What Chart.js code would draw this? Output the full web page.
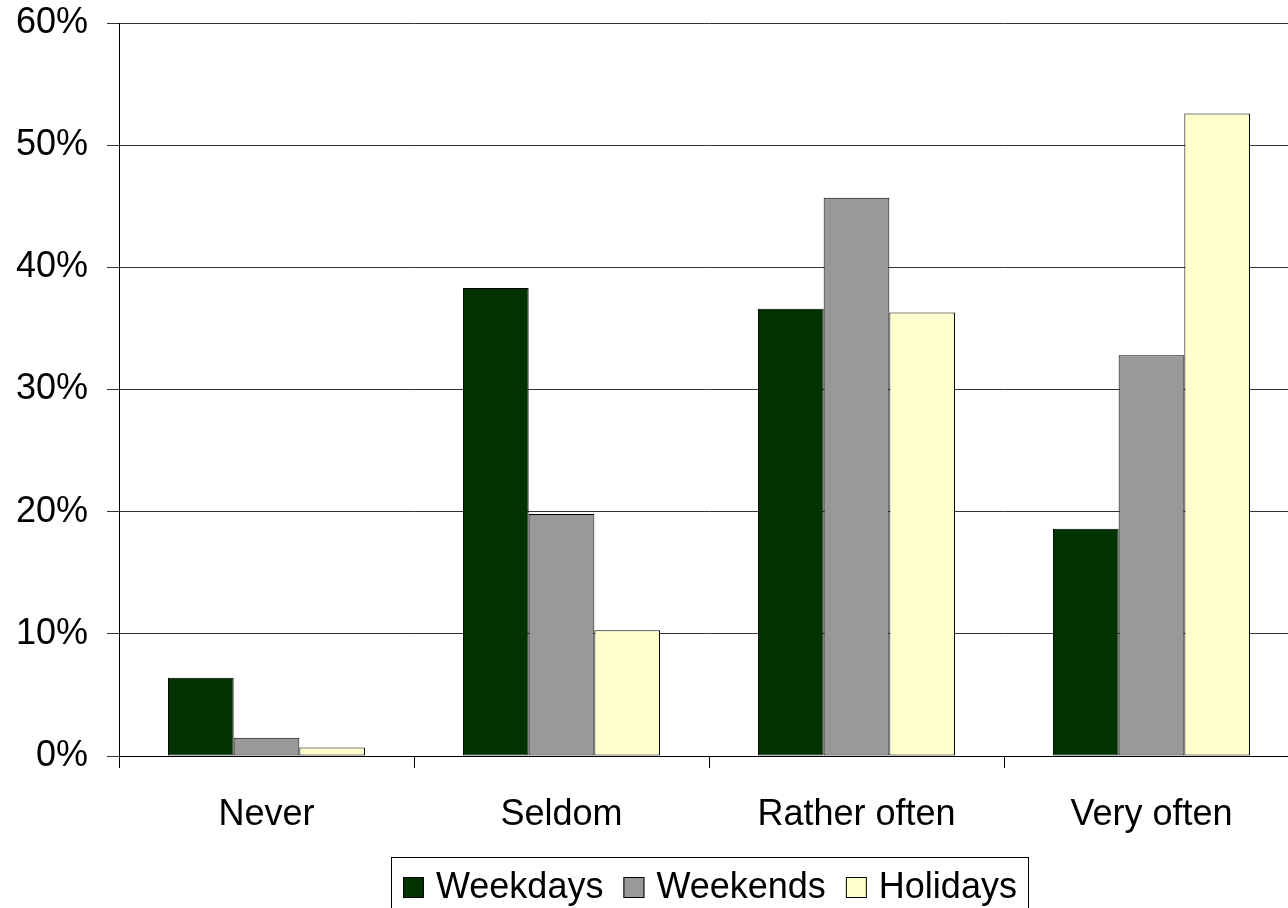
<!DOCTYPE html>
<html>
<head>
<meta charset="utf-8">
<script src="https://cdn.jsdelivr.net/npm/chart.js@4/dist/chart.umd.min.js"></script>
<style>
  html, body { margin: 0; padding: 0; overflow: hidden; background: #ffffff; }
  #wrap { position: absolute; left: 0; top: 0; width: 1302px; height: 908px; }
</style>
</head>
<body>
<div id="wrap"><canvas id="chart" width="1302" height="908"></canvas></div>
<script>
// Share of respondents per frequency, by type of day (%)
const categories = ['Never', 'Seldom', 'Rather often', 'Very often'];
const weekdays = [6.4, 38.3, 36.6, 18.6];
const weekends = [1.5, 19.8, 45.7, 32.8];
const holidays = [0.7, 10.3, 36.3, 52.6];
const seriesNames = ['Weekdays', 'Weekends', 'Holidays'];
const seriesColors = ['#003300', '#999999', '#FFFFCC'];
const yTickValues = [0, 10, 20, 30, 40, 50, 60];

const FONT_FAMILY = '"Liberation Sans", Arial, Helvetica, sans-serif';

// Legend drawn as a framed row of swatches under the x axis
const boxedLegend = {
  id: 'boxedLegend',
  afterDraw(chart) {
    const ctx = chart.ctx;
    const area = chart.chartArea;
    const sets = chart.data.datasets;
    ctx.save();
    ctx.font = '36px ' + FONT_FAMILY;
    const sq = 21, gapText = 12, gapItem = 20, padL = 12, padR = 11;
    const widths = sets.map(d => ctx.measureText(d.label).width);
    let total = padL + padR;
    widths.forEach((w, i) => {
      total += sq + gapText + w + (i < widths.length - 1 ? gapItem : 0);
    });
    const cx = (area.left + area.right) / 2;
    const left = Math.round(cx - total / 2);
    const top = chart.height - 51;

    ctx.strokeStyle = '#000000';
    ctx.lineWidth = 1;
    ctx.strokeRect(left + 0.5, top + 0.5, Math.round(total), 80);

    let x = left + padL;
    const sqTop = top + 20;
    sets.forEach((d, i) => {
      ctx.fillStyle = d.backgroundColor;
      ctx.fillRect(x, sqTop, sq, sq);
      ctx.strokeStyle = '#000000';
      ctx.strokeRect(x + 0.5, sqTop + 0.5, sq - 1, sq - 1);
      x += sq + gapText;
      ctx.fillStyle = '#000000';
      ctx.textBaseline = 'alphabetic';
      ctx.textAlign = 'left';
      ctx.fillText(d.label, x, top + 41);
      x += widths[i] + gapItem;
    });
    ctx.restore();
  }
};

const seriesValues = [weekdays, weekends, holidays];

new Chart(document.getElementById('chart'), {
  type: 'bar',
  data: {
    labels: categories,
    datasets: seriesNames.map((name, i) => ({
      label: name,
      data: seriesValues[i],
      backgroundColor: seriesColors[i],
      borderColor: '#000000',
      borderWidth: 1,
      borderSkipped: false,
      barPercentage: 1.0,
      categoryPercentage: 0.668
    }))
  },
  options: {
    responsive: false,
    animation: false,
    devicePixelRatio: 1,
    layout: { padding: { top: 23, left: 0, right: 3, bottom: 52 } },
    plugins: {
      legend: { display: false },
      tooltip: { enabled: false }
    },
    scales: {
      x: {
        afterFit(scale) { scale.height = 100; },
        grid: {
          display: true,
          offset: true,
          drawOnChartArea: false,
          drawTicks: true,
          tickLength: 12,
          color: '#000000'
        },
        border: { display: true, color: '#000000', width: 1 },
        ticks: {
          color: '#000000',
          padding: 25,
          maxRotation: 0,
          autoSkip: false,
          font: { family: FONT_FAMILY, size: 36 }
        }
      },
      y: {
        min: 0,
        max: 60,
        afterFit(scale) {
          scale.width = 119;
          scale.paddingTop = 0;
          scale.paddingBottom = 0;
        },
        afterBuildTicks(scale) { scale.ticks = yTickValues.map(v => ({ value: v })); },
        grid: {
          color: '#333333',
          lineWidth: 1,
          drawTicks: true,
          tickLength: 12
        },
        border: { display: true, color: '#000000', width: 1 },
        ticks: {
          color: '#000000',
          padding: 19,
          font: { family: FONT_FAMILY, size: 36 },
          callback: v => v + '%'
        }
      }
    }
  },
  plugins: [boxedLegend]
});
</script>
</body>
</html>
